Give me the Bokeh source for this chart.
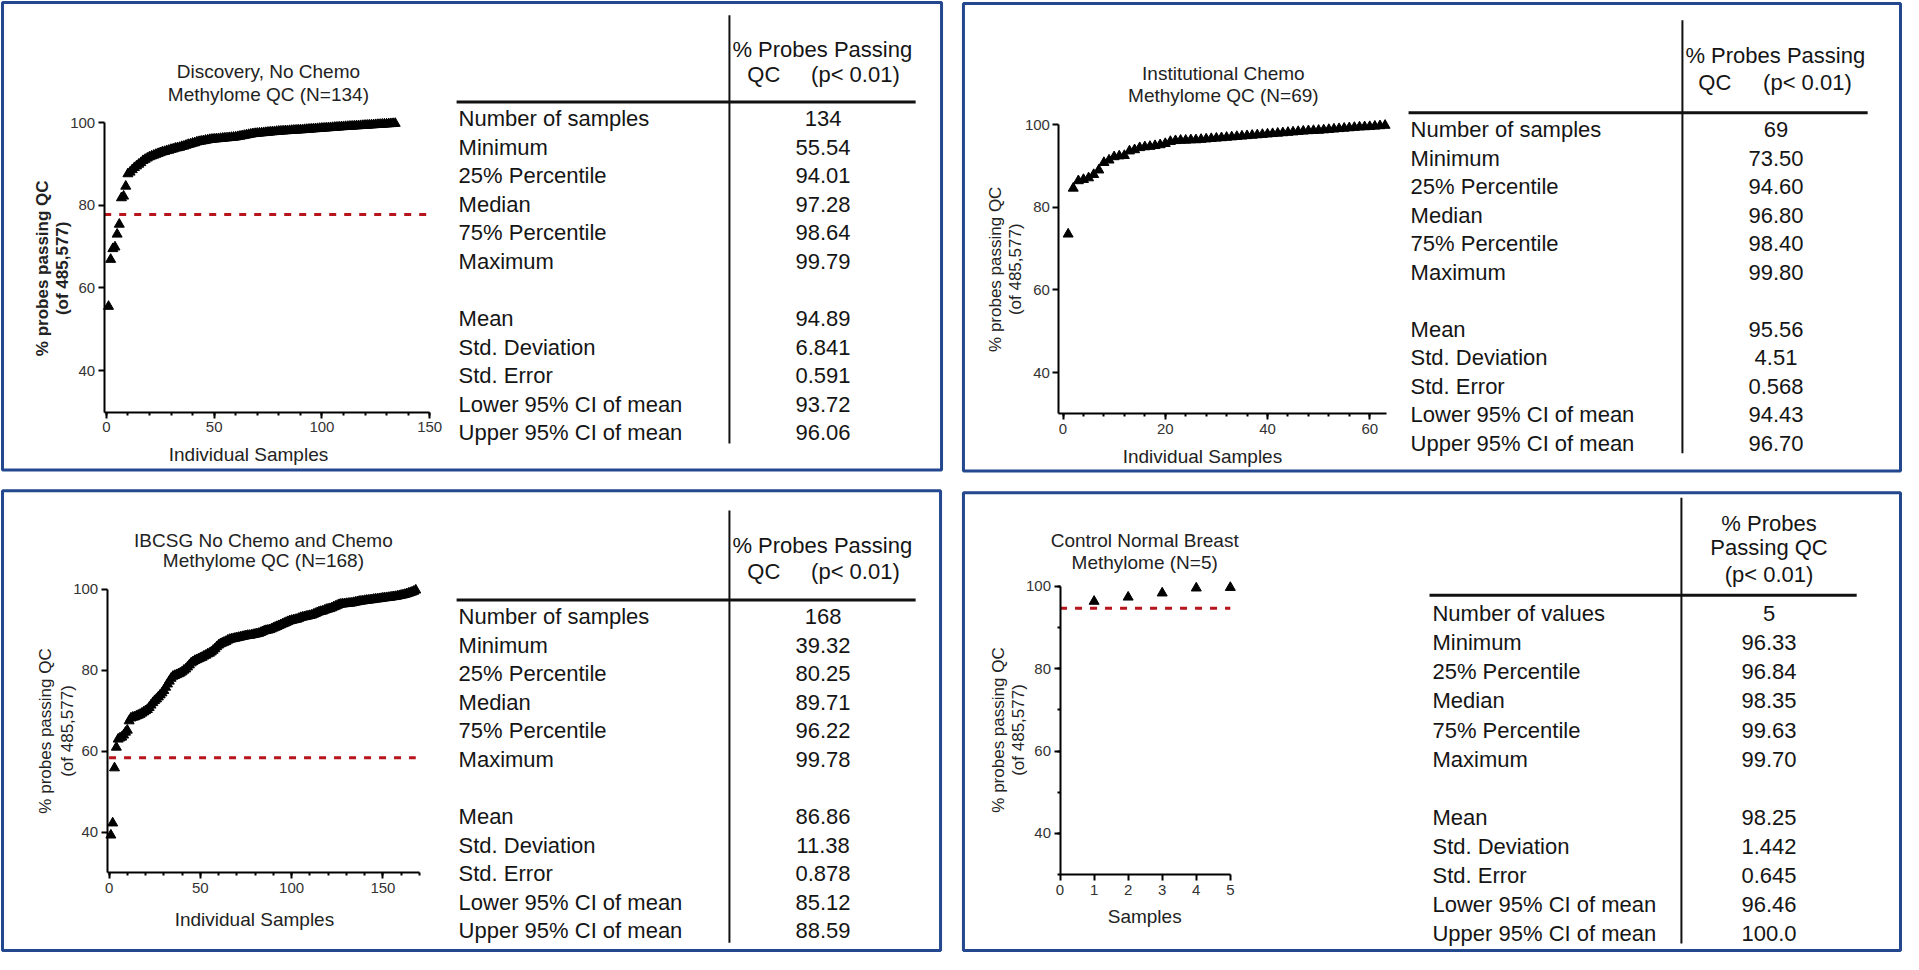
import math
from bokeh.plotting import figure
from bokeh.models import Range1d, LinearAxis, SingleIntervalTicker
from bokeh.core.properties import value
from bokeh.embed import file_html
from bokeh.resources import INLINE

# ---------------- data ----------------
p1_values = [55.54, 66.9, 69.5, 69.9, 73.0, 75.4, 81.8, 82.2, 84.6, 87.6,
             88.0, 88.6, 89.1, 89.5, 89.9, 90.3, 90.8, 91.1, 91.4, 91.7,
             91.9, 92.1, 92.3, 92.5, 92.7, 92.9, 93.0, 93.2, 93.3, 93.5,
             93.6, 93.8, 93.9, 94.0, 94.2, 94.3, 94.5, 94.7, 94.8, 95.0,
             95.1, 95.3, 95.4, 95.5, 95.6, 95.7, 95.8, 95.9, 95.95, 96.0,
             96.05, 96.1, 96.15, 96.2, 96.25, 96.3, 96.35, 96.4, 96.45, 96.5,
             96.6, 96.7, 96.8, 96.9, 97.0, 97.1, 97.2, 97.3, 97.35, 97.4,
             97.45, 97.5, 97.55, 97.6, 97.65, 97.7, 97.75, 97.8, 97.85, 97.9,
             97.93, 97.96, 98.0, 98.03, 98.06, 98.1, 98.13, 98.16, 98.2, 98.23,
             98.26, 98.3, 98.34, 98.38, 98.42, 98.46, 98.5, 98.54, 98.58, 98.62,
             98.65, 98.69, 98.73, 98.77, 98.8, 98.84, 98.88, 98.92, 98.96, 99.0,
             99.03, 99.06, 99.1, 99.13, 99.16, 99.2, 99.23, 99.26, 99.3, 99.33,
             99.36, 99.4, 99.43, 99.46, 99.5, 99.53, 99.56, 99.6, 99.63, 99.66,
             99.7, 99.73, 99.76, 99.79]

p2_values = [73.50, 84.6, 86.4, 86.7, 87.1, 87.9, 89.0, 90.8, 91.4, 92.2,
             92.4, 92.5, 93.6, 93.9, 94.4, 94.6, 94.7, 94.9, 95.1, 95.4,
             95.9, 96.1, 96.2, 96.2, 96.3, 96.3, 96.4, 96.5, 96.6, 96.7,
             96.8, 96.9, 97.0, 97.1, 97.2, 97.3, 97.4, 97.5, 97.6, 97.7,
             97.8, 97.9, 98.0, 98.1, 98.2, 98.3, 98.4, 98.5, 98.55, 98.6,
             98.7, 98.8, 98.9, 99.0, 99.1, 99.2, 99.3, 99.4, 99.45, 99.5,
             99.6, 99.7, 99.8]

p3_values = [39.32, 42.3, 55.9, 61.0, 63.0, 63.3, 63.5, 64.0, 64.7, 65.2,
             67.5, 68.2, 68.4, 68.5, 68.7, 68.9, 69.1, 69.4, 69.7, 70.0,
             70.3, 70.8, 71.4, 72.0, 72.5, 72.9, 73.4, 73.9, 74.4, 75.0,
             75.8, 76.6, 77.3, 78.0, 78.5, 78.7, 78.9, 79.1, 79.3, 79.6,
             80.0, 80.3, 80.8, 81.3, 81.8, 82.1, 82.4, 82.6, 82.8, 83.0,
             83.2, 83.5, 83.7, 84.0, 84.2, 84.5, 84.9, 85.3, 85.8, 86.2,
             86.5, 86.7, 86.9, 87.1, 87.4, 87.6, 87.7, 87.8, 87.9, 88.0,
             88.1, 88.2, 88.3, 88.4, 88.5, 88.6, 88.6, 88.7, 88.8, 88.9,
             89.0, 89.1, 89.3, 89.5, 89.7, 89.8, 89.9, 90.0, 90.2, 90.4,
             90.6, 90.8, 91.0, 91.2, 91.4, 91.6, 91.8, 92.0, 92.2, 92.3,
             92.4, 92.5, 92.6, 92.8, 93.0, 93.1, 93.2, 93.3, 93.4, 93.5,
             93.6, 93.8, 94.0, 94.2, 94.4, 94.5, 94.6, 94.8, 95.0, 95.1,
             95.2, 95.4, 95.6, 95.8, 96.0, 96.2, 96.3, 96.35, 96.4, 96.45,
             96.5, 96.55, 96.6, 96.7, 96.8, 96.9, 97.0, 97.05, 97.1, 97.2,
             97.25, 97.3, 97.35, 97.4, 97.5, 97.55, 97.6, 97.65, 97.7, 97.8,
             97.85, 97.9, 97.95, 98.0, 98.1, 98.15, 98.2, 98.3, 98.4, 98.5,
             98.6, 98.7, 98.85, 99.0, 99.15, 99.3, 99.5, 99.78]

p4_values = [96.33, 97.35, 98.35, 99.56, 99.70]

thresholds = [77.79, None, 58.41, 94.65]

titles = [["Discovery, No Chemo", "Methylome QC (N=134)"],
          ["Institutional Chemo", "Methylome QC (N=69)"],
          ["IBCSG No Chemo and Chemo", "Methylome QC (N=168)"],
          ["Control Normal Breast", "Methylome (N=5)"]]
x_titles = ["Individual Samples", "Individual Samples", "Individual Samples", "Samples"]
y_title = ["% probes passing QC", "(of 485,577)"]

row_labels_a = ["Number of samples", "Minimum", "25% Percentile", "Median",
                "75% Percentile", "Maximum", "Mean", "Std. Deviation",
                "Std. Error", "Lower 95% CI of mean", "Upper 95% CI of mean"]
row_labels_b = ["Number of values"] + row_labels_a[1:]

table_values = [
    ["134", "55.54", "94.01", "97.28", "98.64", "99.79", "94.89", "6.841", "0.591", "93.72", "96.06"],
    ["69", "73.50", "94.60", "96.80", "98.40", "99.80", "95.56", "4.51", "0.568", "94.43", "96.70"],
    ["168", "39.32", "80.25", "89.71", "96.22", "99.78", "86.86", "11.38", "0.878", "85.12", "88.59"],
    ["5", "96.33", "96.84", "98.35", "99.63", "99.70", "98.25", "1.442", "0.645", "96.46", "100.0"],
]
header_a = ["% Probes Passing", "QC", "(p< 0.01)"]
header_b = ["% Probes", "Passing QC", "(p< 0.01)"]

# ---------------- canvas ----------------
W, H = 1902, 953
FONT = "Liberation Sans"


def cx(X):
    return 2 + (X - 5) * (W - 4) / (1911 - 5)


def cy(Y):
    return H - (2 + (Y - 4) * (H - 4) / (968 - 4))


p = figure(width=W, height=H, x_range=Range1d(0, W), y_range=Range1d(0, H),
           x_axis_type=None, y_axis_type=None, toolbar_location=None, tools="",
           output_backend="svg", min_border=0, outline_line_color=None)


def txt(xs, ys, texts, size, align="left", baseline="middle", angle=0.0,
        style="normal", color="#151515"):
    p.text(x=[cx(v) for v in xs], y=[cy(v) for v in ys], text=texts,
           text_font=value(FONT), text_font_size=value(f"{size}px"),
           text_align=align, text_baseline=baseline, angle=angle,
           text_font_style=style, text_color=color)


def make_range(d0, P0, d1, P1, total):
    a = (P1 - P0) / (d1 - d0)
    start = d0 - P0 / a
    return Range1d(start, start + total / a)


BOX = "#24488f"
boxes = [(5, 4, 948, 479), (970, 5, 1911, 480), (5, 500, 947, 967), (970, 502, 1911, 967)]
for (l, t, r, b) in boxes:
    p.quad(left=[cx(l)], right=[cx(r)], top=[cy(t)], bottom=[cy(b)],
           fill_alpha=0, line_color=BOX, line_width=3)

panels = [
    dict(values=p1_values, xa=((0, 109.3), (150, 434)), ya=((40, 378), (100, 126)),
         xb=(-1, 150), xi=50, xm=5, ym=0, line=(-1, 150),
         tpos=(272, 74, 97), xtpos=(252, 463), ytpos=(45, 65, 274), bold=True),
    dict(values=p2_values, xa=((0, 1070), (60, 1378)), ya=((40, 380), (100, 128)),
         xb=(-0.8, 63.2), xi=20, xm=5, ym=0, line=None,
         tpos=(1231, 76, 98), xtpos=(1210, 465), ytpos=(1002, 1022, 275), bold=False),
    dict(values=p3_values, xa=((0, 112), (150, 387)), ya=((40, 847), (100, 600)),
         xb=(-1, 170), xi=50, xm=5, ym=0, line=(0, 168),
         tpos=(267, 550, 571), xtpos=(258, 935), ytpos=(48, 70, 744), bold=False),
    dict(values=p4_values, xa=((0, 1067), (5, 1238)), ya=((40, 848), (100, 597)),
         xb=(0, 5), xi=1, xm=0, ym=2, line=(0, 5),
         tpos=(1152, 551, 573), xtpos=(1152, 932), ytpos=(1005, 1025, 743), bold=False),
]

for i, cfg in enumerate(panels):
    xn, yn = f"px{i}", f"py{i}"
    (xd0, X0), (xd1, X1) = cfg["xa"]
    (yd0, Y0), (yd1, Y1) = cfg["ya"]
    p.extra_x_ranges[xn] = make_range(xd0, cx(X0), xd1, cx(X1), W)
    p.extra_y_ranges[yn] = make_range(yd0, cy(Y0), yd1, cy(Y1), H)

    xaxis = LinearAxis(x_range_name=xn, y_range_name=yn, fixed_location=30,
                       bounds=cfg["xb"],
                       ticker=SingleIntervalTicker(interval=cfg["xi"], num_minor_ticks=cfg["xm"]))
    yaxis = LinearAxis(x_range_name=xn, y_range_name=yn, fixed_location=cfg["xb"][0],
                       bounds=(30, 100),
                       ticker=SingleIntervalTicker(interval=20, num_minor_ticks=cfg["ym"]))
    for ax in (xaxis, yaxis):
        ax.axis_line_width = 2
        ax.axis_line_color = "black"
        ax.major_tick_line_width = 2
        ax.minor_tick_line_width = 2
        ax.major_tick_out = 6
        ax.major_tick_in = 0
        ax.minor_tick_out = 3
        ax.minor_tick_in = 0
        ax.major_label_text_font = FONT
        ax.major_label_text_font_size = "15px"
        ax.major_label_text_color = "#333333"
    xaxis.major_label_standoff = 4
    yaxis.major_label_standoff = 3
    p.add_layout(xaxis, "below")
    p.add_layout(yaxis, "left")

    vals = cfg["values"]
    xs = list(range(1, len(vals) + 1))
    if thresholds[i] is not None:
        a, b = cfg["line"]
        p.segment(x0=[a], y0=[thresholds[i]], x1=[b], y1=[thresholds[i]],
                  line_color="#b8141c", line_width=3, line_dash="7 8",
                  x_range_name=xn, y_range_name=yn)
    p.scatter(x=xs, y=vals, marker="triangle", size=10, fill_color="black",
              line_color="black", x_range_name=xn, y_range_name=yn)

    tx, ty1, ty2 = cfg["tpos"]
    txt([tx, tx], [ty1, ty2], titles[i], 19, align="center", color="#222222")
    xtx, xty = cfg["xtpos"]
    txt([xtx], [xty], [x_titles[i]], 19, align="center", color="#222222")
    yx1, yx2, yyc = cfg["ytpos"]
    txt([yx1, yx2], [yyc, yyc], y_title, 17, align="center", angle=math.pi / 2,
        style="bold" if cfg["bold"] else "normal", color="#222222")

# ---------------- tables ----------------
tables = [
    dict(vx=735, vy=(17, 452), hy=105, hx=(461, 922), lab_x=463, val_x=829,
         row0=122, step=29.0, labels=row_labels_a, header=header_a,
         hpos=[(738, 52, "left"), (753, 77, "left"), (817, 77, "left")]),
    dict(vx=1692, vy=(22, 462), hy=116, hx=(1417, 1878), lab_x=1419, val_x=1786,
         row0=133, step=29.0, labels=row_labels_a, header=header_a,
         hpos=[(1695, 58, "left"), (1708, 85, "left"), (1773, 85, "left")]),
    dict(vx=735, vy=(520, 959), hy=611, hx=(461, 922), lab_x=463, val_x=829,
         row0=628, step=29.0, labels=row_labels_a, header=header_a,
         hpos=[(738, 556, "left"), (753, 582, "left"), (817, 582, "left")]),
    dict(vx=1691, vy=(507, 960), hy=606, hx=(1438, 1867), lab_x=1441, val_x=1779,
         row0=625, step=29.5, labels=row_labels_b, header=header_b,
         hpos=[(1779, 533, "center"), (1779, 558, "center"), (1779, 585, "center")]),
]
row_slots = [0, 1, 2, 3, 4, 5, 7, 8, 9, 10, 11]

for i, t in enumerate(tables):
    p.segment(x0=[cx(t["vx"])], y0=[cy(t["vy"][0])], x1=[cx(t["vx"])], y1=[cy(t["vy"][1])],
              line_color="#111111", line_width=2)
    p.segment(x0=[cx(t["hx"][0])], y0=[cy(t["hy"])], x1=[cx(t["hx"][1])], y1=[cy(t["hy"])],
              line_color="#111111", line_width=3)
    for (hx, hy, al), htxt in zip(t["hpos"], t["header"]):
        txt([hx], [hy], [htxt], 22, align=al)
    ys = [t["row0"] + k * t["step"] for k in row_slots]
    txt([t["lab_x"]] * len(ys), ys, t["labels"], 22, align="left")
    txt([t["val_x"]] * len(ys), ys, table_values[i], 22, align="center")

open("out.html", "w").write(file_html(p, INLINE))
